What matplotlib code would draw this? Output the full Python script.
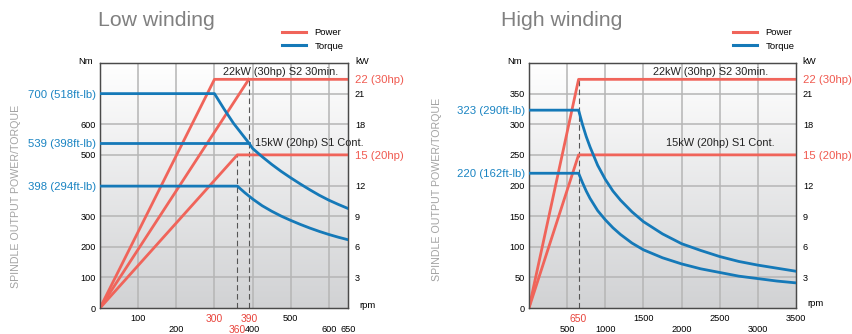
import numpy as np
import matplotlib
matplotlib.use('Agg')
import matplotlib.pyplot as plt
from matplotlib.colors import LinearSegmentedColormap

plt.rcParams['font.family'] = ['Liberation Sans', 'DejaVu Sans']

RED = '#f0645a'
BLUE = '#1579b8'
GRID = '#b5b5b5'
W, H = 853, 334

# ---- Low winding ----
low_power_s2_rpm = [0, 300, 650]
low_power_s2_kw = [0, 22.4, 22.4]
low_power_s2b_rpm = [0, 390]
low_power_s2b_kw = [0, 22.4]
low_power_s1_rpm = [0, 360, 650]
low_power_s1_kw = [0, 15, 15]
low_torque_s2_rpm = [0, 300, 325, 350, 375, 390, 400, 425, 450, 475, 500,
                     525, 550, 575, 600, 625, 650]
low_torque_s2_nm = [700, 700, 650, 603, 563, 539, 521, 494, 469, 446, 425,
                    405, 386, 368, 352, 338, 325]
low_torque_s2b_rpm = [0, 390]
low_torque_s2b_nm = [539, 539]
low_torque_s1_rpm = [0, 360, 380, 400, 425, 450, 475, 500, 525, 550, 575,
                     600, 625, 650]
low_torque_s1_nm = [398, 398, 376, 356, 334, 316, 300, 286, 273, 261, 250,
                    240, 231, 223]
low_x_upper = [100, 300, 390, 500]
low_x_upper_red = [False, True, True, False]
low_x_lower = [200, 360, 400, 600, 650]
low_x_lower_red = [False, True, False, False, False]
low_nm_ticks = [0, 100, 200, 300, 398, 500, 539, 600, 700]
low_nm_labels = ['0', '100', '200', '300', '398 (294ft-lb)', '500',
                 '539 (398ft-lb)', '600', '700 (518ft-lb)']
low_vgrid = [100, 200, 300, 400, 500, 600]

# ---- High winding ----
high_power_s2_rpm = [0, 650, 3500]
high_power_s2_kw = [0, 22.4, 22.4]
high_power_s1_rpm = [0, 650, 3500]
high_power_s1_kw = [0, 15, 15]
high_torque_rpm = [0, 650, 700, 750, 800, 900, 1000, 1100, 1200, 1350, 1500,
                   1750, 2000, 2250, 2500, 2750, 3000, 3250, 3500]
high_torque_s2_nm = [323, 323, 300, 280, 263, 233, 210, 191, 176, 157, 141,
                     121, 105, 94, 84, 76, 70, 65, 60]
high_torque_s1_nm = [220, 220, 205, 191, 179, 159, 144, 131, 120, 106, 95,
                     82, 72, 64, 58, 52, 48, 44, 41]
high_x_upper = [650, 1500, 2500, 3500]
high_x_upper_red = [True, False, False, False]
high_x_lower = [500, 1000, 2000, 3000]
high_x_lower_red = [False, False, False, False]
high_nm_ticks = [0, 50, 100, 150, 200, 220, 250, 300, 323, 350]
high_nm_labels = ['0', '50', '100', '150', '200', '220 (162ft-lb)', '250',
                  '300', '323 (290ft-lb)', '350']
high_vgrid = [500, 1000, 1500, 2000, 2500, 3000]

kw_ticks = [3, 6, 9, 12, 15, 18, 21, 22.4]
kw_labels = ['3', '6', '9', '12', '15 (20hp)', '18', '21', '22 (30hp)']
hgrid_kw = [3, 6, 9, 12, 15, 18, 21]

fig = plt.figure(figsize=(W / 100, H / 100), dpi=100)
bg = LinearSegmentedColormap.from_list('bg', ['#d1d2d4', '#ffffff'])


def rect(l, t, r, b):
    return [l / W, 1 - b / H, (r - l) / W, (b - t) / H]


def panel(box, xmax, nm_max, vgrid, x_up, x_up_red, x_lo, x_lo_red,
          nm_ticks, nm_labels):
    ax = fig.add_axes(box)
    ax2 = ax.twinx()
    ax.set_zorder(2)
    ax.patch.set_visible(False)
    ax2.set_zorder(1)
    ax2.imshow(np.linspace(0, 1, 256).reshape(-1, 1), cmap=bg, origin='lower',
               extent=[0, xmax, 0, 24], aspect='auto', zorder=0)
    for v in vgrid:
        ax2.axvline(v, color=GRID, lw=1.1, zorder=1)
    for h in hgrid_kw:
        ax2.axhline(h, color=GRID, lw=1.1, zorder=1)
    ax.set_xlim(0, xmax)
    ax.set_ylim(0, nm_max)
    ax2.set_ylim(0, 24)
    ax2.set_xlim(0, xmax)
    for a in (ax, ax2):
        for s in a.spines.values():
            s.set_color('#4a4a4a')
            s.set_linewidth(0.9)
    ax.set_xticks(x_up)
    ax.set_xticks(x_lo, minor=True)
    ax.set_xticklabels([str(v) for v in x_up])
    ax.set_xticklabels([str(v) for v in x_lo], minor=True)
    ax.tick_params(axis='x', which='major', length=0, pad=4.5, labelsize=6.6)
    ax.tick_params(axis='x', which='minor', length=0, pad=12.3, labelsize=6.6)
    for lab, red in zip(ax.get_xticklabels(), x_up_red):
        if red:
            lab.set_color('#e8443c')
            lab.set_fontsize(7.4)
    for lab, red in zip(ax.get_xticklabels(minor=True), x_lo_red):
        if red:
            lab.set_color('#e8443c')
            lab.set_fontsize(7.4)
    ax.set_yticks(nm_ticks)
    ax.set_yticklabels(nm_labels)
    ax.tick_params(axis='y', length=0, pad=3, labelsize=6.6)
    for lab in ax.get_yticklabels():
        if '(' in lab.get_text():
            lab.set_color('#1a84c2')
            lab.set_fontsize(8.2)
    ax2.set_yticks(kw_ticks)
    ax2.set_yticklabels(kw_labels)
    ax2.tick_params(axis='y', length=0, pad=5, labelsize=6.6)
    for lab in ax2.get_yticklabels():
        if '(' in lab.get_text():
            lab.set_color('#f05a50')
            lab.set_fontsize(8.2)
    return ax, ax2


# ---------- left panel ----------
axL, axL2 = panel(rect(100, 63, 348, 308), 650, 800, low_vgrid,
                  low_x_upper, low_x_upper_red, low_x_lower, low_x_lower_red,
                  low_nm_ticks, low_nm_labels)
axL2.vlines(low_power_s1_rpm[1], 0, low_power_s1_kw[1], colors='#555555',
            linestyles=(0, (5, 3)), lw=0.8, zorder=2)
axL2.vlines(low_power_s2b_rpm[1], 0, low_power_s2b_kw[1], colors='#555555',
            linestyles=(0, (5, 3)), lw=0.8, zorder=2)
axL2.plot(low_power_s2_rpm, low_power_s2_kw, color=RED, lw=2, zorder=3)
axL2.plot(low_power_s2b_rpm, low_power_s2b_kw, color=RED, lw=2, zorder=3)
axL2.plot(low_power_s1_rpm, low_power_s1_kw, color=RED, lw=2, zorder=3)
axL.plot(low_torque_s2_rpm, low_torque_s2_nm, color=BLUE, lw=2, zorder=4)
axL.plot(low_torque_s2b_rpm, low_torque_s2b_nm, color=BLUE, lw=2, zorder=4)
axL.plot(low_torque_s1_rpm, low_torque_s1_nm, color=BLUE, lw=2, zorder=4)
axL2.text(322, 23.1, '22kW (30hp) S2 30min.', fontsize=7.9, va='center',
          color='#222222', zorder=5)
axL2.text(407, 16.15, '15kW (20hp) S1 Cont.', fontsize=7.9, va='center',
          color='#222222', zorder=5)

# ---------- right panel ----------
axR, axR2 = panel(rect(529, 63, 796, 308), 3500, 400, high_vgrid,
                  high_x_upper, high_x_upper_red, high_x_lower, high_x_lower_red,
                  high_nm_ticks, high_nm_labels)
axR2.vlines(high_power_s2_rpm[1], 0, high_power_s2_kw[1], colors='#555555',
            linestyles=(0, (5, 3)), lw=0.8, zorder=2)
axR2.plot(high_power_s2_rpm, high_power_s2_kw, color=RED, lw=2, zorder=3)
axR2.plot(high_power_s1_rpm, high_power_s1_kw, color=RED, lw=2, zorder=3)
axR.plot(high_torque_rpm, high_torque_s2_nm, color=BLUE, lw=2, zorder=4)
axR.plot(high_torque_rpm, high_torque_s1_nm, color=BLUE, lw=2, zorder=4)
axR2.text(1621, 23.1, '22kW (30hp) S2 30min.', fontsize=7.9, va='center',
          color='#222222', zorder=5)
axR2.text(1792, 16.15, '15kW (20hp) S1 Cont.', fontsize=7.9, va='center',
          color='#222222', zorder=5)

# ---------- titles, unit labels, legends ----------
for x0, title, ylab_x, ylab_y, nm_x, kw_x, rpm_x, rpm_y in [
        (98, 'Low winding', 16, 196, 93, 355, 359, 306),
        (501, 'High winding', 437, 189, 522, 802, 807, 303)]:
    fig.text(x0 / W, 1 - 20 / H, title, fontsize=15.3, color='#808080',
             va='center', ha='left')
    fig.text(ylab_x / W, 1 - ylab_y / H, 'SPINDLE OUTPUT POWER/TORQUE',
             rotation=90, fontsize=7.7, color='#a3a3a3', va='center', ha='center')
    fig.text(nm_x / W, 1 - 61 / H, 'Nm', fontsize=6.8, ha='right', va='center')
    fig.text(kw_x / W, 1 - 61 / H, 'kW', fontsize=6.8, ha='left', va='center')
    fig.text(rpm_x / W, 1 - rpm_y / H, 'rpm', fontsize=6.8, ha='left', va='center')

handles = [plt.Line2D([], [], color=RED, lw=2.2), plt.Line2D([], [], color=BLUE, lw=2.2)]
for leg_x in (282, 733):
    fig.legend(handles, ['Power', 'Torque'], loc='upper left',
               bbox_to_anchor=(leg_x / W, 1 - 28 / H), frameon=False,
               fontsize=6.8, handlelength=2.55, handletextpad=0.9,
               labelspacing=0.5, borderpad=0, borderaxespad=0)

fig.savefig('out.png', dpi=100)
